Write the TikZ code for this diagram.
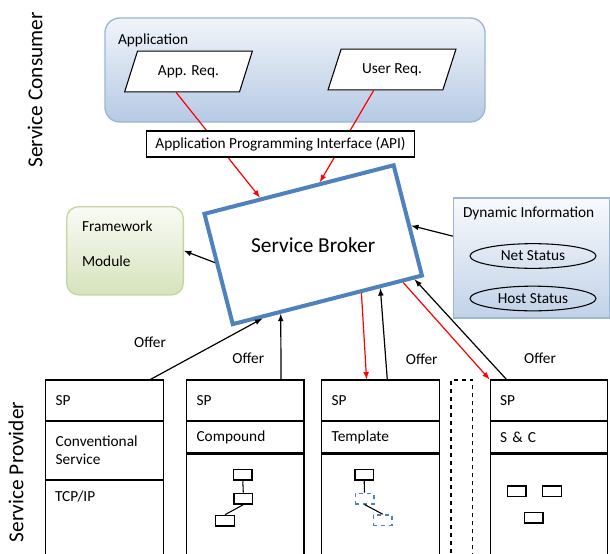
\documentclass[tikz,border=0pt]{standalone}
\usepackage{fontspec}
\setmainfont{Carlito}
\usepackage{tikz}
\usetikzlibrary{positioning}
\usetikzlibrary{shapes.geometric}
\usetikzlibrary{calc}
\usetikzlibrary{arrows}
\definecolor{brokerblue}{RGB}{79,129,189}
\definecolor{appblue}{RGB}{182,202,228}
\definecolor{appedge}{RGB}{155,182,214}
\definecolor{fwgreen}{RGB}{214,227,188}
\definecolor{fwedge}{RGB}{196,214,160}
\tikzset{
  appbox/.style={draw=appedge, line width=1pt, rounded corners=11pt, top color=appblue!20, bottom color=appblue, minimum width=285pt, minimum height=78pt},
  req/.style={draw, fill=white, line width=0.8pt, trapezium, trapezium left angle=58, trapezium right angle=122, trapezium stretches=true, minimum width=96pt, minimum height=30.5pt, inner sep=0pt},
  apibox/.style={draw, fill=white, line width=0.9pt, minimum width=201.5pt, minimum height=19.5pt, inner sep=0pt},
  brokerbox/.style={draw=brokerblue, line width=3pt, fill=white, minimum width=146.5pt, minimum height=85.4pt, rotate=14.4},
  fwbox/.style={draw=fwedge, line width=1pt, rounded corners=9pt, top color=fwgreen!15, bottom color=fwgreen, minimum width=87.5pt, minimum height=66.2pt},
  dynbox/.style={draw=appedge, line width=1pt, top color=appblue!10, bottom color=appblue!85, minimum width=117pt, minimum height=90pt},
  status/.style={draw, ellipse, line width=0.8pt, minimum width=94.5pt, minimum height=18.5pt, inner sep=0pt},
  sprow/.style={draw, line width=1pt, minimum width=88.2pt, text width=73.2pt, inner xsep=7.5pt, align=left, minimum height=30.2pt},
  midrow/.style={sprow, minimum height=23.5pt},
  lowrow/.style={sprow, minimum height=81pt},
  sbox/.style={draw, line width=1pt, minimum width=14pt, minimum height=8pt, inner sep=0pt},
  dbox/.style={sbox, draw=brokerblue, dashed},
  redarrow/.style={->, red, line width=0.9pt},
  bigtext/.style={font=\fontsize{16}{19}\selectfont}
}
\begin{document}
\begin{tikzpicture}[x=0.75pt,y=-0.75pt,>=latex,line width=0.9pt,
  every node/.append style={font=\fontsize{11.5}{13.5}\selectfont}]
\useasboundingbox (0,0) rectangle (610,553);
\node[rotate=90, bigtext] (consumer) at (35,90) {Service Consumer};
\node[rotate=90, bigtext] (provider) at (16,472) {Service Provider};

\node[appbox] (app) at (295,70) {};
\node[anchor=west] (applabel) at (113,40) {Application};
\node[req] (appreq) at (188.5,71.5) {App. Req.};
\node[req] (userreq) at (392,69.5) {User Req.};

\node[brokerbox] (broker) at (313.2,244.7) {};
\node[bigtext] (brokerlabel) at (broker) {Service Broker};

\draw[redarrow] ($(appreq.bottom left corner)!0.45!(appreq.bottom right corner)$) -- ($(broker.north west)!0.3!(broker.north east)$);
\draw[redarrow] ($(userreq.bottom left corner)!0.4!(userreq.bottom right corner)$) -- ($(broker.north west)!0.61!(broker.north east)$);
\node[apibox] (api) at (280.5,144) {Application Programming Interface (API)};

\node[fwbox] (fw) at (125,250.8) {};
\node[anchor=west] (fwtop) at (77,226) {Framework};
\node[anchor=west] (fwbottom) at (77,261) {Module};
\node[dynbox] (dyn) at (531.5,258) {};
\node[anchor=west] (dynlabel) at (458,213) {Dynamic Information};
\node[status] (net) at (533,256) {Net Status};
\node[status] (host) at (533,298.5) {Host Status};

\draw[->] ($(broker.north west)!0.44!(broker.south west)$) -- (fw.east);
\draw[->] ($(dyn.north west)!0.32!(dyn.south west)$) -- ($(broker.north east)!0.55!(broker.south east)$);

\node[sprow] (sp1) at (104.5,400.2) {SP};
\node[sprow, minimum height=43.3pt, below=0pt of sp1] (mid1) {Conventional\\Service};
\node[lowrow, minimum height=61pt, below=0pt of mid1] (low1) {};
\node[anchor=north west] (tcp) at ($(low1.north west)+(5,6)$) {TCP/IP};
\foreach \n/\x/\lab in {2/245.35/Compound, 3/380.5/Template, 4/549/S \& C} {
  \node[sprow] (sp\n) at (\x,400.2) {SP};
  \node[midrow, below=0pt of sp\n] (mid\n) {\lab};
  \node[lowrow, below=0pt of mid\n] (low\n) {};
}
\node[draw, dashed, minimum width=16pt, minimum height=135pt] (gap) at (461.6,470) {};

\node[sbox] (ca) at (242.8,474.7) {};
\node[sbox] (cb) at (243.3,498.7) {};
\node[sbox] (cc) at (225,520.7) {};
\draw[line width=0.8pt] (ca.south) -- (cb.north) (cb.south) -- (cc.north);
\node[sbox] (ta) at (364.2,474.7) {};
\node[dbox] (tb) at (364.5,498.5) {};
\node[dbox] (tc) at (382.7,520.2) {};
\draw[line width=0.8pt] (ta.south) -- (tb.north) (tb.south) -- (tc.north);
\node[sbox] (sa) at (516.8,491.2) {};
\node[sbox] (sb) at (552,491.2) {};
\node[sbox] (sc) at (533.8,517.5) {};

\node (offer1) at (150,342) {Offer};
\node (offer2) at (248.3,358.3) {Offer};
\node (offer3) at (421.7,359.3) {Offer};
\node (offer4) at (540,358.3) {Offer};

\draw[->] ($(sp1.north west)!0.887!(sp1.north east)$) -- ($(broker.south west)!0.16!(broker.south east)$);
\draw[->] ($(sp2.north west)!0.8!(sp2.north east)$) -- ($(broker.south west)!0.256!(broker.south east)$);
\draw[redarrow] ($(broker.south west)!0.674!(broker.south east)$) -- ($(sp3.north west)!0.383!(sp3.north east)$);
\draw[->] ($(sp3.north west)!0.557!(sp3.north east)$) -- ($(broker.south west)!0.772!(broker.south east)$);
\draw[redarrow] ($(broker.south west)!0.89!(broker.south east)$) -- (sp4.north west);
\draw[->] ($(sp4.north west)!0.142!(sp4.north east)$) -- ($(broker.south west)!0.95!(broker.south east)$);
\end{tikzpicture}
\end{document}
